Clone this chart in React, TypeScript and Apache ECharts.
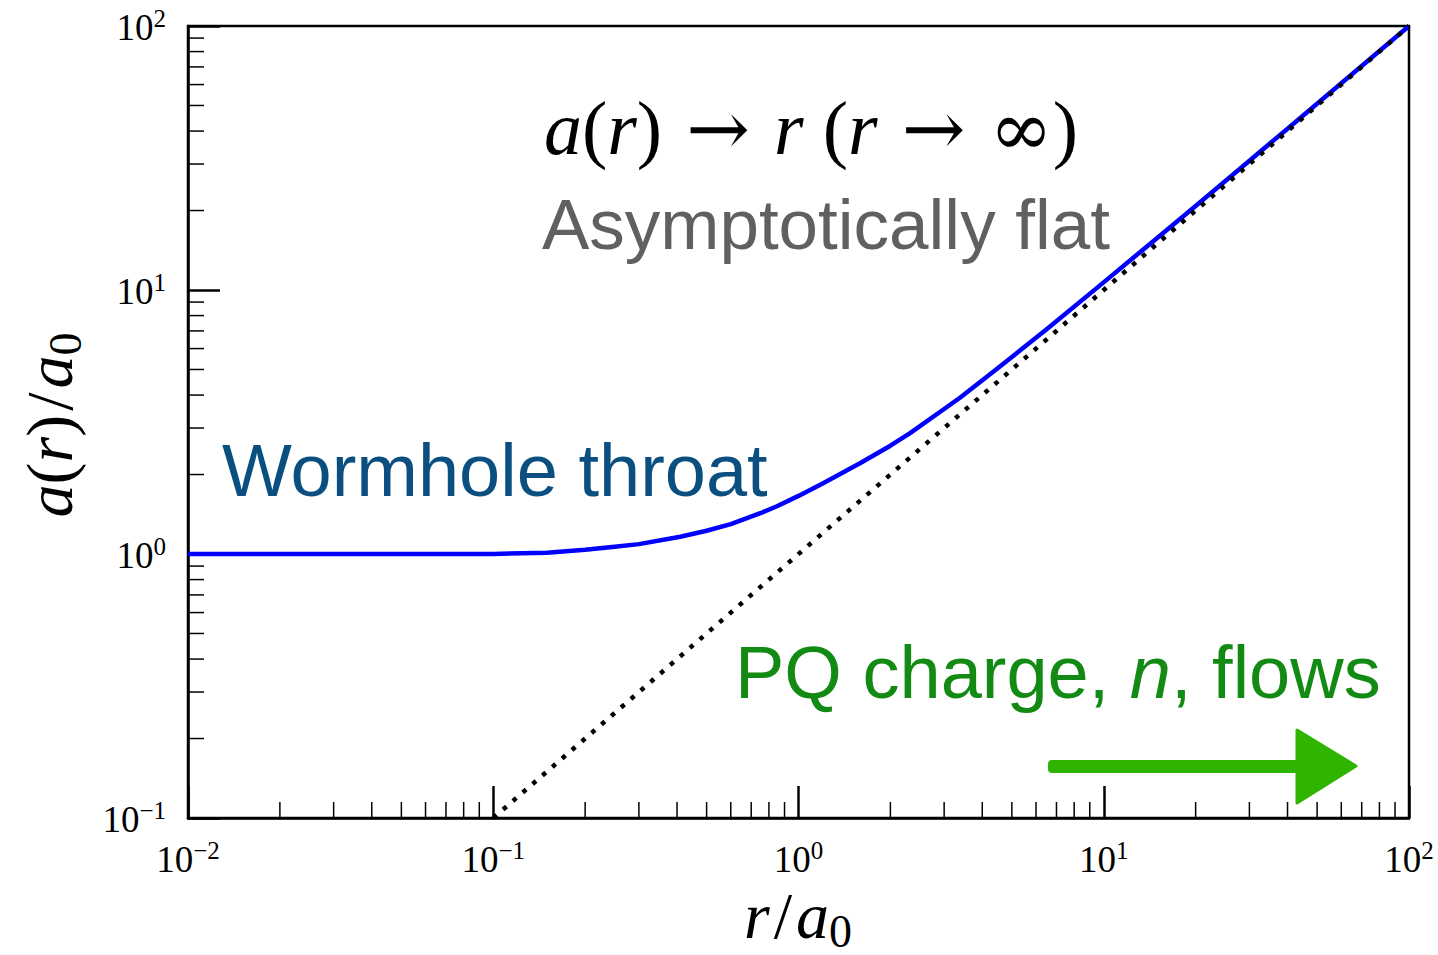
import React, { useEffect, useRef } from "react";
import * as echarts from "echarts";

// ---- data ----
const curveR = [0.01, 0.05, 0.1, 0.15, 0.2, 0.25, 0.3, 0.41, 0.5, 0.6, 0.75, 0.85, 1.0, 1.2, 1.59, 2.0, 2.32, 3.0, 3.38, 4.57, 6.5, 9.7, 15, 20, 28, 40, 60, 100];
const curveA = [1.0, 1.0, 1.001, 1.012, 1.038, 1.065, 1.09, 1.163, 1.225, 1.297, 1.427, 1.517, 1.66, 1.851, 2.206, 2.572, 2.868, 3.543, 3.907, 5.13, 7.1, 10.39, 15.78, 20.8, 28.86, 40.84, 60.7, 100];
const asymR = [0.1, 100];
const asymA = [0.1, 100];
const xMinorTicks = [0.02, 0.03, 0.04, 0.05, 0.06, 0.07, 0.08, 0.09, 0.2, 0.3, 0.4, 0.5, 0.6, 0.7, 0.8, 0.9, 2, 3, 4, 5, 6, 7, 8, 9, 20, 30, 40, 50, 60, 70, 80, 90];
const yMinorTicks = [0.2, 0.3, 0.4, 0.5, 0.6, 0.7, 0.8, 0.9, 2, 3, 4, 5, 6, 7, 8, 9, 20, 30, 40, 50, 60, 70, 80, 90];
const X_MIN = 0.01, X_MAX = 100, Y_MIN = 0.1, Y_MAX = 100;

const SERIF = "'Liberation Serif', 'DejaVu Serif', serif";
const SYM = "'DejaVu Serif', 'DejaVu Sans', serif";
const SANS = "'Liberation Sans', Arial, Helvetica, sans-serif";

function expLabel(v: number) {
  const e = Math.round(Math.log10(v));
  const s = e < 0 ? "\u2212" + -e : String(e);
  return `{b|10}{s|${s}}`;
}

const tickRich = {
  b: { fontFamily: SERIF, fontSize: 37, lineHeight: 40, verticalAlign: "bottom", color: "#000" },
  s: { fontFamily: SERIF, fontSize: 25, lineHeight: 22, verticalAlign: "top", color: "#000" },
};

const mathRich = (size: number) => ({
  i: { fontFamily: SERIF, fontStyle: "italic", fontSize: size, lineHeight: size + 6, verticalAlign: "top", fill: "#000" },
  u: { fontFamily: SERIF, fontSize: size, lineHeight: size + 6, verticalAlign: "top", fill: "#000" },
  sl: { fontFamily: SERIF, fontSize: size, lineHeight: size + 6, verticalAlign: "top", fill: "#000", padding: [0, 4, 0, 4] },
  y: { fontFamily: SYM, fontSize: size, lineHeight: size + 6, verticalAlign: "top", fill: "#000" },
  sub: { fontFamily: SERIF, fontSize: Math.round(size * 0.7), lineHeight: Math.round(size * 0.7), verticalAlign: "bottom", fill: "#000" },
});

export default function App() {
  const ref = useRef<HTMLDivElement>(null);
  useEffect(() => {
    const chart = echarts.init(ref.current!, null, { renderer: "svg" });
    const option: any = {
      animation: false,
      backgroundColor: "#fff",
      grid: { left: 188, right: 29, top: 26, bottom: 137, show: true, borderColor: "#000", borderWidth: 2.5, containLabel: false },
      xAxis: {
        type: "log", logBase: 10, min: X_MIN, max: X_MAX,
        axisLine: { show: true, lineStyle: { color: "#000", width: 2.5 } },
        axisTick: { show: true, inside: true, length: 32, lineStyle: { color: "#000", width: 2.5 } },
        axisLabel: { margin: 20, formatter: (v: number) => expLabel(v), rich: tickRich },
        splitLine: { show: false },
      },
      yAxis: {
        type: "log", logBase: 10, min: Y_MIN, max: Y_MAX,
        axisLine: { show: true, lineStyle: { color: "#000", width: 2.5 } },
        axisTick: { show: true, inside: true, length: 32, lineStyle: { color: "#000", width: 2.5 } },
        axisLabel: { margin: 22, formatter: (v: number) => expLabel(v), rich: tickRich },
        splitLine: { show: false },
      },
      series: [
        {
          type: "custom", coordinateSystem: "cartesian2d", silent: true, z: 3,
          data: xMinorTicks.map((v) => [v, Y_MIN]),
          renderItem: (params: any, api: any) => {
            const p = api.coord([api.value(0), api.value(1)]);
            return { type: "line", shape: { x1: p[0], y1: p[1], x2: p[0], y2: p[1] - 16 }, style: { stroke: "#000", lineWidth: 1.5 } };
          },
        },
        {
          type: "custom", coordinateSystem: "cartesian2d", silent: true, z: 3,
          data: yMinorTicks.map((v) => [X_MIN, v]),
          renderItem: (params: any, api: any) => {
            const p = api.coord([api.value(0), api.value(1)]);
            return { type: "line", shape: { x1: p[0], y1: p[1], x2: p[0] + 16, y2: p[1] }, style: { stroke: "#000", lineWidth: 1.5 } };
          },
        },
        {
          type: "line", showSymbol: false, smooth: false, z: 6,
          data: asymR.map((r, i) => [r, asymA[i]]),
          lineStyle: { color: "#000", width: 4.5, type: [4.5, 8.5], cap: "butt" },
        },
        {
          type: "line", showSymbol: false, smooth: false, z: 5,
          data: curveR.map((r, i) => [r, curveA[i]]),
          lineStyle: { color: "#0000ff", width: 4.5, join: "round" },
        },
      ],
      graphic: [
        {
          type: "text", x: 811, y: 131, z: 10,
          style: {
            text: "{i|a}{u|(}{i|r}{u|)}{y| \u2192 }{i|r}{u| (}{i|r}{y| \u2192 \u221e}{u|)}",
            align: "center", verticalAlign: "middle",
            rich: mathRich(76),
          },
        },
        {
          type: "text", x: 826, y: 224, z: 10,
          style: { text: "Asymptotically flat", fontFamily: SANS, fontSize: 71, fill: "#606060", align: "center", verticalAlign: "middle" },
        },
        {
          type: "text", x: 222, y: 470, z: 10,
          style: { text: "Wormhole throat", fontFamily: SANS, fontSize: 74, fill: "#0b4f80", align: "left", verticalAlign: "middle" },
        },
        {
          type: "text", x: 735, y: 672, z: 10,
          style: {
            text: "{g|PQ charge, }{gi|n}{g|, flows}", align: "left", verticalAlign: "middle",
            rich: {
              g: { fontFamily: SANS, fontSize: 74, fill: "#138a13" },
              gi: { fontFamily: SANS, fontSize: 74, fontStyle: "italic", fill: "#138a13" },
            },
          },
        },
        { type: "rect", z: 10, shape: { x: 1048, y: 760, width: 258, height: 13, r: 4 }, style: { fill: "#2fb400" } },
        { type: "polygon", z: 10, shape: { points: [[1297, 730], [1356, 766], [1297, 803]] }, style: { fill: "#2fb400", stroke: "#2fb400", lineWidth: 3, lineJoin: "round" } },
        {
          type: "text", x: 52, y: 425, rotation: Math.PI / 2, z: 10,
          style: {
            text: "{i|a}{u|(}{i|r}{u|)}{sl|/}{i|a}{sub|0}", align: "center", verticalAlign: "middle",
            rich: mathRich(66),
          },
        },
        {
          type: "text", x: 798, y: 918, z: 10,
          style: {
            text: "{i|r}{sl|/}{i|a}{sub|0}", align: "center", verticalAlign: "middle",
            rich: mathRich(66),
          },
        },
      ],
    };
    chart.setOption(option);
    return () => chart.dispose();
  }, []);
  return <div ref={ref} style={{ position: "absolute", left: 0, top: 0, width: 1438, height: 955 }} />;
}
